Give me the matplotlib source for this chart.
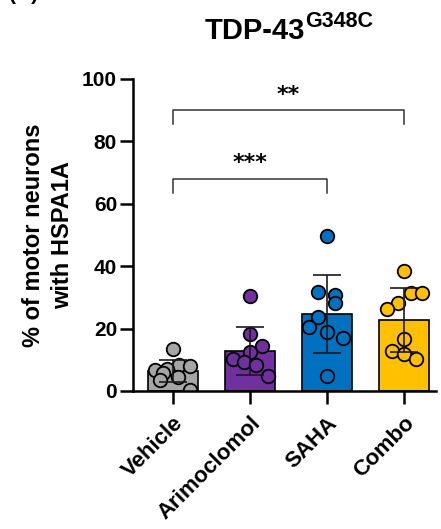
import numpy as np
import matplotlib.pyplot as plt

groups = ["Vehicle", "Arimoclomol", "SAHA", "Combo"]
means = [6.4, 12.8, 24.8, 22.7]
sds = [3.6, 7.6, 12.5, 10.3]
points = [
    [13.5, 8.3, 8.0, 6.9, 6.7, 5.8, 4.6, 3.5, 0.4],
    [30.3, 18.3, 14.4, 12.6, 10.3, 9.3, 8.4, 4.7],
    [49.7, 31.8, 30.8, 28.3, 23.8, 20.6, 19.0, 16.9, 4.8],
    [38.5, 31.3, 31.3, 28.1, 26.4, 16.6, 12.9, 12.0, 10.1],
]
# horizontal jitter (category units)
jitter = [
    [0.0, 0.08, 0.22, -0.08, -0.23, -0.13, 0.07, -0.17, 0.22],
    [0.0, 0.0, 0.16, 0.0, -0.22, -0.08, 0.08, 0.23],
    [0.0, -0.11, 0.10, 0.10, -0.11, -0.23, 0.0, 0.21, 0.0],
    [0.0, 0.09, 0.24, -0.07, -0.22, 0.0, -0.15, 0.0, 0.16],
]
colors = ["#A5A5A5", "#7030A0", "#0070C0", "#FFC000"]
comparisons = [(0, 2, "***", 68), (0, 3, "**", 90)]

plt.rcParams['font.family'] = ['Liberation Sans', 'DejaVu Sans']

fig = plt.figure(figsize=(4.41, 5.29), dpi=100)
ax = fig.add_axes([0.3016, 0.2609, 0.6871, 0.5898])

x = np.arange(len(groups))
ax.bar(x, means, width=0.65, color=colors, edgecolor="black", linewidth=1.2, zorder=1)

for i in range(len(groups)):
    xs = x[i] + np.array(jitter[i])
    ax.scatter(xs, points[i], s=95, color=colors[i], edgecolor="black",
               linewidth=1.3, zorder=2)

ax.errorbar(x, means, yerr=sds, fmt="none", ecolor="#1a1a1a", elinewidth=1.2,
            capsize=10, capthick=1.2, zorder=3)

for a, b, label, h in comparisons:
    ax.plot([x[a], x[a], x[b], x[b]], [h - 4.5, h, h, h - 4.5], color="#333333",
            linewidth=1.1, clip_on=False, zorder=4)
    ax.text((x[a] + x[b]) / 2, h + 1.8, label, ha="center", va="bottom",
            fontsize=16, fontweight="bold", family="DejaVu Sans")

ax.set_xlim(-0.52, 3.42)
ax.set_ylim(0, 100)
ax.set_yticks([0, 20, 40, 60, 80, 100])
ax.set_xticks(x)
ax.set_xticklabels(groups, rotation=45, ha="right", va="top", rotation_mode="anchor",
                   fontsize=16, fontweight="bold")
for lab in ax.get_yticklabels():
    lab.set_fontweight("bold")
    lab.set_fontsize(15)
ax.tick_params(axis="both", length=9.5, width=1.8, pad=2)
ax.tick_params(axis="x", pad=6)

for side in ["top", "right"]:
    ax.spines[side].set_visible(False)
for side in ["left", "bottom"]:
    ax.spines[side].set_linewidth(1.8)
    ax.spines[side].set_zorder(5)

ax.set_ylabel("% of motor neurons\nwith HSPA1A", fontsize=17, fontweight="bold",
              labelpad=6, linespacing=1.3)

fig.text(305 / 441, 1 - 39 / 529, "TDP-43", ha="right", va="baseline",
         fontsize=21, fontweight="bold")
fig.text(305 / 441, 1 - 27 / 529, "G348C", ha="left", va="baseline",
         fontsize=15.5, fontweight="bold")
fig.text(0.02, 1.0, "(B)", ha="left", va="baseline", fontsize=15, fontweight="bold")

fig.savefig("out.png", dpi=100)
